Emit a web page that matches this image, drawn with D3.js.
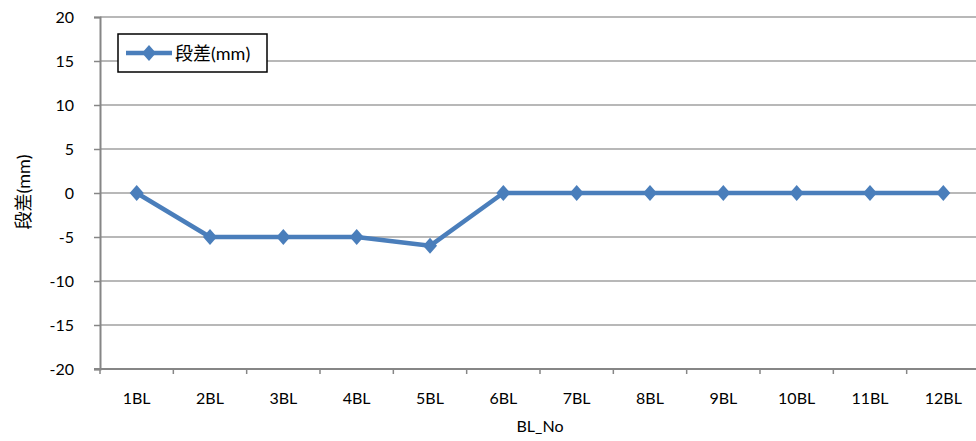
<!DOCTYPE html>
<html>
<head>
<meta charset="utf-8">
<script src="https://cdn.jsdelivr.net/npm/d3@7"></script>
<style>
  html, body { margin: 0; padding: 0; background: #fff; }
  svg { display: block; }
  svg text { font-family: Lato, "Open Sans", "Liberation Sans", "Noto Sans CJK JP", sans-serif; fill: #000; }
</style>
</head>
<body>
<svg id="chart" width="976" height="441"></svg>
<script>
// Step height per baseline
const categories = ["1BL","2BL","3BL","4BL","5BL","6BL","7BL","8BL","9BL","10BL","11BL","12BL"];
const stepValues = [0, -5, -5, -5, -6, 0, 0, 0, 0, 0, 0, 0];
const yTicks = [-20, -15, -10, -5, 0, 5, 10, 15, 20];
const seriesName = "段差(mm)";
const yTitle = "段差(mm)";
const xTitle = "BL_No";

const svg = d3.select("#chart");
const plot = { left: 100, right: 980, top: 17, bottom: 369 };
const fs = 16;
const fsJa = 18;

const x = d3.scaleBand().domain(categories).range([plot.left, plot.right]);
const y = d3.scaleLinear().domain([-20, 20]).range([plot.bottom, plot.top]);

const lineColor = "#4a7ebb";
const gridColor = "#a0a0a0";
const axisColor = "#868686";

// horizontal gridlines
svg.append("g").selectAll("line").data(yTicks.filter(t => t !== -20)).join("line")
  .attr("x1", plot.left).attr("x2", plot.right)
  .attr("y1", d => y(d)).attr("y2", d => y(d))
  .attr("stroke", gridColor).attr("stroke-width", 1.5);

// y axis
const yAxis = svg.append("g").attr("transform", `translate(${plot.left},0)`)
  .call(d3.axisLeft(y).tickValues(yTicks).tickSize(6).tickPadding(20).tickFormat(d => String(d)))
  .attr("font-family", null).attr("font-size", null);
yAxis.select(".domain").attr("stroke", axisColor).attr("stroke-width", 2);
yAxis.selectAll(".tick line").attr("stroke", axisColor).attr("stroke-width", 1.5);
yAxis.selectAll(".tick text").attr("font-size", fs).attr("dy", "0.35em");

// x axis with ticks at category boundaries
const xAxisG = svg.append("g").attr("transform", `translate(0,${plot.bottom})`);
xAxisG.append("line").attr("x1", plot.left - 6).attr("x2", plot.right)
  .attr("stroke", axisColor).attr("stroke-width", 2);
const bounds = categories.map(c => x(c)).concat([plot.right]);
xAxisG.selectAll("line.tk").data(bounds).join("line").attr("class", "tk")
  .attr("x1", d => d).attr("x2", d => d).attr("y1", 0).attr("y2", 5)
  .attr("stroke", axisColor).attr("stroke-width", 1.5);
xAxisG.selectAll("text").data(categories).join("text")
  .attr("x", d => x(d) + x.bandwidth() / 2).attr("y", 35)
  .attr("text-anchor", "middle").attr("font-size", fs)
  .text(d => d);

// axis titles
svg.append("text").attr("x", (plot.left + plot.right) / 2).attr("y", 432)
  .attr("text-anchor", "middle").attr("font-size", fs).text(xTitle);
svg.append("text").attr("transform", `translate(30,${y(0) - 1}) rotate(-90)`)
  .attr("text-anchor", "middle").attr("font-size", fsJa).text(yTitle);

// series line
const cx = d => x(d) + x.bandwidth() / 2;
const line = d3.line().x((d, i) => cx(categories[i])).y(d => y(d));
svg.append("path").datum(stepValues).attr("d", line)
  .attr("fill", "none").attr("stroke", lineColor).attr("stroke-width", 4.5)
  .attr("stroke-linejoin", "round");

const diamond = "M0,-8L7,0L0,8L-7,0Z";
svg.append("g").selectAll("path").data(stepValues).join("path")
  .attr("transform", (d, i) => `translate(${cx(categories[i])},${y(d)})`)
  .attr("d", diamond).attr("fill", lineColor);

// legend
const lg = svg.append("g").attr("transform", "translate(118,34)");
lg.append("rect").attr("width", 149).attr("height", 38)
  .attr("fill", "#fff").attr("stroke", "#000").attr("stroke-width", 1.5);
lg.append("line").attr("x1", 8).attr("x2", 54).attr("y1", 19).attr("y2", 19)
  .attr("stroke", lineColor).attr("stroke-width", 4.5);
lg.append("path").attr("transform", "translate(31,19)").attr("d", diamond).attr("fill", lineColor);
lg.append("text").attr("x", 57).attr("y", 26).attr("font-size", fsJa).text(seriesName);
</script>
</body>
</html>
